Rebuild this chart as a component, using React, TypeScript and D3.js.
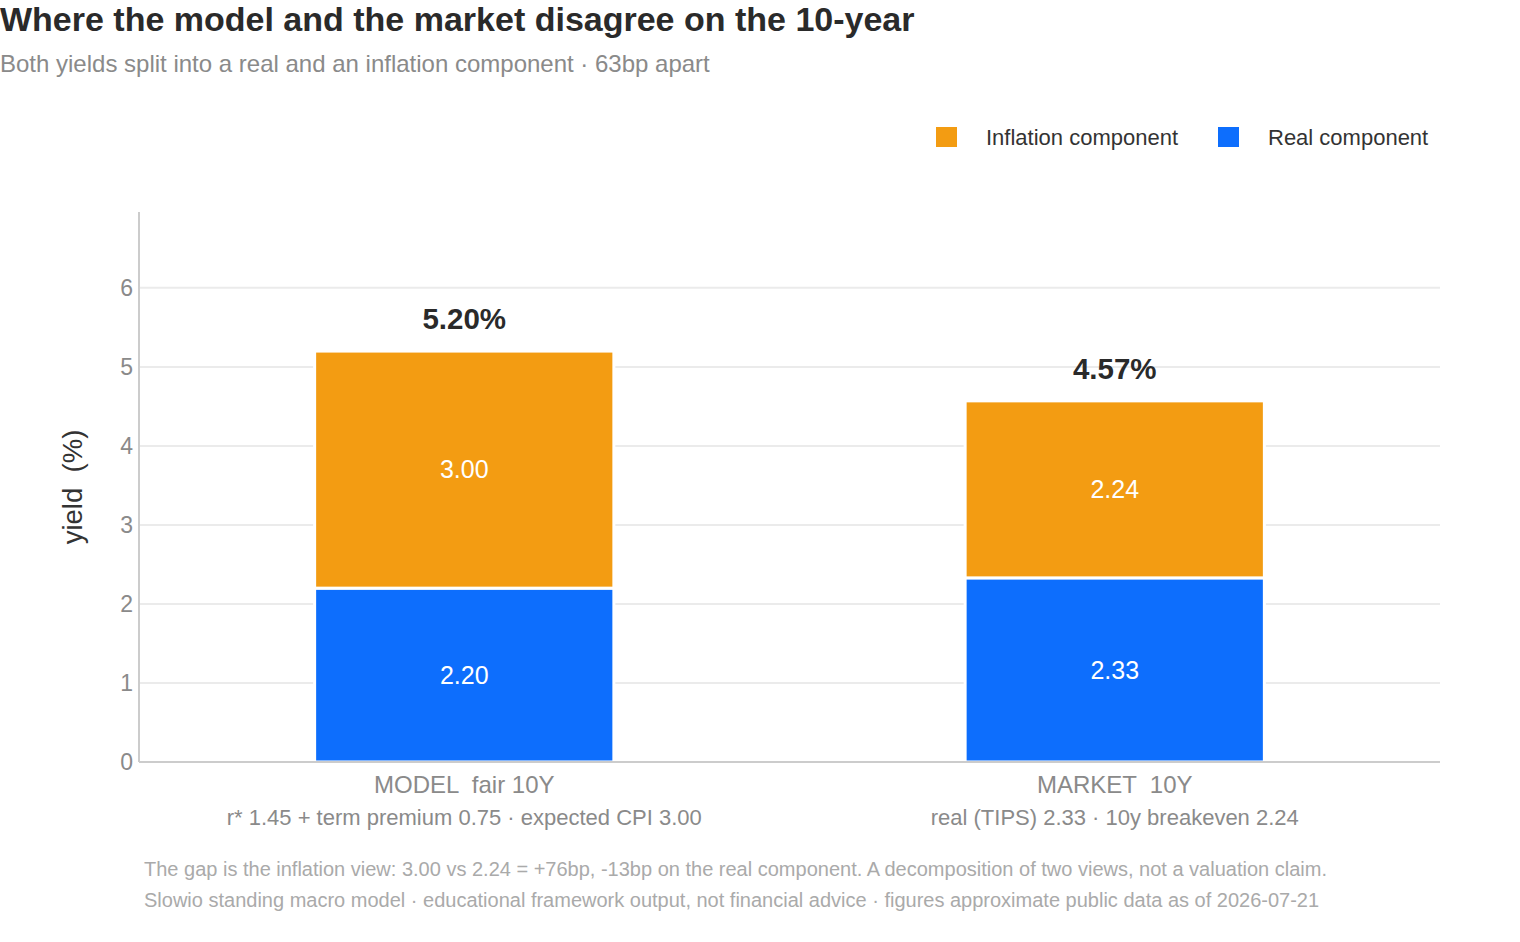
import React from 'react'
import * as d3 from 'd3'

// chart data
const categories = ['MODEL  fair 10Y', 'MARKET  10Y']
const subLabels = [
    'r* 1.45 + term premium 0.75 · expected CPI 3.00',
    'real (TIPS) 2.33 · 10y breakeven 2.24',
]
const realValues = [2.2, 2.33]
const inflationValues = [3.0, 2.24]
const totalLabels = ['5.20%', '4.57%']
const yTicks = [0, 1, 2, 3, 4, 5, 6]

const seriesKeys = ['real', 'inflation']
const seriesColors = { real: '#0D6EFD', inflation: '#F39C12' }
const legendItems = [
    { key: 'inflation', label: 'Inflation component' },
    { key: 'real', label: 'Real component' },
]

const W = 1520
const H = 942
const plot = { left: 139, right: 1440, top: 212, bottom: 762 }
const FONT = '"Liberation Sans", Arial, Helvetica, sans-serif'

export default function App() {
    const rows = categories.map((c, i) => ({
        cat: c,
        real: realValues[i],
        inflation: inflationValues[i],
    }))
    const stacked = d3.stack().keys(seriesKeys)(rows)

    const x = d3.scaleBand().domain(categories).range([plot.left, plot.right]).padding(0)
    const barW = x.bandwidth() * 0.46
    const y = d3.scaleLinear().domain([0, 6.96]).range([plot.bottom, plot.top])

    return (
        <svg
            width={W}
            height={H}
            style={{ position: 'absolute', left: 0, top: 0, background: '#fff', fontFamily: FONT }}
        >
            {/* title block */}
            <text x={0} y={31} fontSize={34} fontWeight="bold" fill="#2a2a2a">
                Where the model and the market disagree on the 10-year
            </text>
            <text x={0} y={72} fontSize={24} fill="#8a8a8a">
                Both yields split into a real and an inflation component · 63bp apart
            </text>

            {/* legend */}
            {legendItems.map((d, i) => {
                const lx = [936, 1218][i]
                return (
                    <g key={d.key}>
                        <rect x={lx} y={127} width={21} height={20} fill={seriesColors[d.key]} />
                        <text x={lx + 50} y={145} fontSize={22} fill="#333">
                            {d.label}
                        </text>
                    </g>
                )
            })}

            {/* grid */}
            {yTicks.filter(t => t > 0).map(t => (
                <line key={t} x1={plot.left} x2={plot.right} y1={y(t)} y2={y(t)} stroke="#ebebeb" strokeWidth={2} />
            ))}

            {/* y tick labels */}
            {yTicks.map(t => (
                <text key={t} x={133} y={y(t)} dy="0.35em" textAnchor="end" fontSize={23} fill="#8a8a8a">
                    {t}
                </text>
            ))}

            <text
                transform={`translate(82,${(plot.top + plot.bottom) / 2}) rotate(-90)`}
                textAnchor="middle"
                fontSize={27.5}
                fill="#333"
                style={{ whiteSpace: 'pre' }}
            >
                {'yield  (%)'}
            </text>

            {/* stacked bars */}
            {stacked.map(layer =>
                layer.map((seg, i) => {
                    const cx = x(categories[i]) + x.bandwidth() / 2
                    const y0 = y(seg[0])
                    const y1 = y(seg[1])
                    return (
                        <g key={layer.key + i}>
                            <rect
                                x={cx - barW / 2}
                                y={y1}
                                width={barW}
                                height={y0 - y1}
                                fill={seriesColors[layer.key]}
                                stroke="#fff"
                                strokeWidth={3}
                            />
                            <text
                                x={cx}
                                y={(y0 + y1) / 2}
                                dy="0.35em"
                                textAnchor="middle"
                                fontSize={25}
                                fill="#fff"
                            >
                                {(seg[1] - seg[0]).toFixed(2)}
                            </text>
                        </g>
                    )
                })
            )}

            {/* totals */}
            {rows.map((r, i) => (
                <text
                    key={r.cat}
                    x={x(r.cat) + x.bandwidth() / 2}
                    y={y(r.real + r.inflation) - 22}
                    textAnchor="middle"
                    fontSize={29.5}
                    fontWeight="bold"
                    fill="#2a2a2a"
                >
                    {totalLabels[i]}
                </text>
            ))}

            {/* axes */}
            <line x1={plot.left} x2={plot.left} y1={plot.top} y2={plot.bottom} stroke="#cccccc" strokeWidth={2} />
            <line x1={plot.left} x2={plot.right} y1={plot.bottom} y2={plot.bottom} stroke="#cccccc" strokeWidth={2} />

            {/* category labels */}
            {categories.map((c, i) => (
                <g key={c}>
                    <text
                        x={x(c) + x.bandwidth() / 2}
                        y={793}
                        textAnchor="middle"
                        fontSize={24}
                        fill="#8a8a8a"
                        style={{ whiteSpace: 'pre' }}
                    >
                        {c}
                    </text>
                    <text x={x(c) + x.bandwidth() / 2} y={825} textAnchor="middle" fontSize={22} fill="#8a8a8a">
                        {subLabels[i]}
                    </text>
                </g>
            ))}

            {/* footer */}
            <text x={144} y={876} fontSize={20} fill="#aaaaaa">
                The gap is the inflation view: 3.00 vs 2.24 = +76bp, -13bp on the real component. A decomposition of two views, not a valuation claim.
            </text>
            <text x={144} y={907} fontSize={20} fill="#aaaaaa">
                Slowio standing macro model · educational framework output, not financial advice · figures approximate public data as of 2026-07-21
            </text>
        </svg>
    )
}
